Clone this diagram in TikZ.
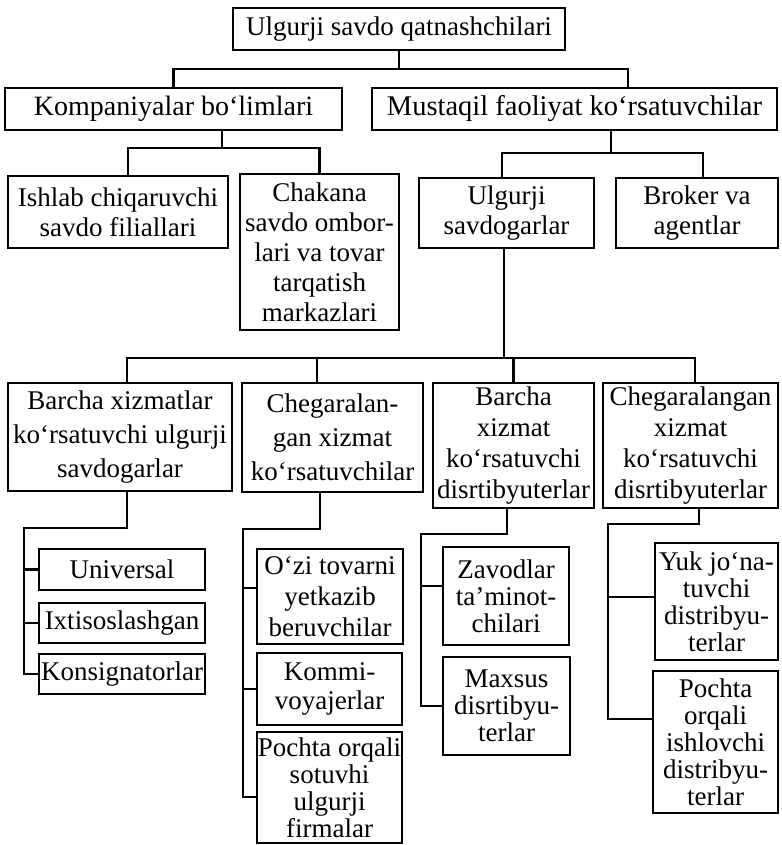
\documentclass[tikz,border=0pt]{standalone}
\usepackage{fontspec}
\setmainfont{Liberation Serif}
\begin{document}
\begin{tikzpicture}[x=1pt,y=-1pt,
  bx/.style={draw, line width=2.1pt, align=center, inner sep=0pt, font=\fontsize{27}{29}\selectfont},
  ls/.style={font=\fontsize{27}{#1}\selectfont},
  ln/.style={line width=2.1pt, line cap=rect}]
\useasboundingbox[fill=white] (0,0) rectangle (781,845);
% row 1-2
\node[bx, minimum width=332pt, minimum height=42pt] (top) at (399,29) {Ulgurji savdo qatnashchilari};
\node[bx, minimum width=337pt, minimum height=42pt, font=\fontsize{28}{30}\selectfont] (komp) at (173.5,109) {Kompaniyalar bo‘limlari};
\node[bx, minimum width=405pt, minimum height=42pt, font=\fontsize{28.5}{30}\selectfont] (must) at (574.5,109) {Mustaqil faoliyat ko‘rsatuvchilar};
% row 3
\node[bx, ls=30, minimum width=220pt, minimum height=72pt] (ishlab) at (118,212) {Ishlab chiqaruvchi\\savdo filiallari};
\node[bx, ls=30, minimum width=159pt, minimum height=156pt] (chakana) at (319.5,252) {Chakana\\savdo ombor-\\lari va tovar\\tarqatish\\markazlari};
\node[bx, ls=30, minimum width=175pt, minimum height=70pt] (ulgs) at (506.5,213) {Ulgurji\\savdogarlar};
\node[bx, ls=30, minimum width=162pt, minimum height=70pt] (broker) at (697,213) {Broker va\\agentlar};
% row 4
\node[bx, ls=34, minimum width=224pt, minimum height=108pt] (bx1) at (120,437) {Barcha xizmatlar\\ko‘rsatuvchi ulgurji\\savdogarlar};
\node[bx, ls=34, minimum width=181pt, minimum height=109pt] (cg1) at (332.5,437.5) {Chegaralan-\\gan xizmat\\ko‘rsatuvchilar};
\node[bx, ls=31, minimum width=161pt, minimum height=125pt] (bx2) at (513.5,445.5) {Barcha\\xizmat\\ko‘rsatuvchi\\disrtibyuterlar};
\node[bx, ls=31, minimum width=175pt, minimum height=125pt] (cg2) at (690.5,445.5) {Chegaralangan\\xizmat\\ko‘rsatuvchi\\disrtibyuterlar};
% row 5
\node[bx, minimum width=166pt, minimum height=41pt] (univ) at (122,569.5) {Universal};
\node[bx, minimum width=166pt, minimum height=40pt] (ixt) at (122,623) {Ixtisoslashgan};
\node[bx, minimum width=166pt, minimum height=40pt] (kons) at (122,674) {Konsignatorlar};
\node[bx, ls=31, minimum width=146pt, minimum height=95pt] (ozi) at (330,596.5) {O‘zi tovarni\\yetkazib\\beruvchilar};
\node[bx, minimum width=145pt, minimum height=72pt] (kommi) at (329.5,689) {Kommi-\\voyajerlar};
\node[bx, ls=27, minimum width=145pt, minimum height=111pt] (poch1) at (329.5,787.5) {Pochta orqali\\sotuvhi\\ulgurji\\firmalar};
\node[bx, ls=27, minimum width=126pt, minimum height=98pt] (zavod) at (506,596) {Zavodlar\\ta’minot-\\chilari};
\node[bx, ls=27, minimum width=127pt, minimum height=98pt] (maxsus) at (506.5,706) {Maxsus\\disrtibyu-\\terlar};
\node[bx, ls=27, minimum width=123pt, minimum height=117pt] (yuk) at (716.5,601.5) {Yuk jo‘na-\\tuvchi\\distribyu-\\terlar};
\node[bx, ls=27, minimum width=125pt, minimum height=142pt] (poch2) at (715.5,742) {Pochta\\orqali\\ishlovchi\\distribyu-\\terlar};
% connectors
\draw[ln] (top.south) -- ++(0,18) coordinate (t1);
\draw[ln] (komp.north) |- (t1);
\draw[ln] ([xshift=53.5pt]must.north) |- (t1);
\draw[ln] ([xshift=48.5pt]komp.south) -- ++(0,17) coordinate (k1);
\draw[ln] ([xshift=10pt]ishlab.north) |- (k1);
\draw[ln] (chakana.north) |- (k1);
\draw[ln] ([xshift=36.5pt]must.south) -- ++(0,22) coordinate (m1);
\draw[ln] ([xshift=-4.5pt]ulgs.north) |- (m1);
\draw[ln] ([xshift=6pt]broker.north) |- (m1);
\draw[ln] ([xshift=-2.5pt]ulgs.south) -- ++(0,109) coordinate (u1);
\draw[ln] ([xshift=7pt]bx1.north) |- (u1);
\draw[ln] ([xshift=-15.5pt]cg1.north) |- (u1);
\draw[ln] (bx2.north) |- (u1);
\draw[ln] ([xshift=4.5pt]cg2.north) |- (u1);
% branch 1
\draw[ln] ([xshift=7pt]bx1.south) -- ++(0,36) -| ([xshift=-14pt]kons.west) -- (kons.west);
\draw[ln] (univ.west) -- ++(-14,0);
\draw[ln] (ixt.west) -- ++(-14,0);
% branch 2
\draw[ln] ([xshift=-12.5pt]cg1.south) -- ++(0,36) -| ([xshift=-13pt,yshift=-9.5pt]poch1.west) -- ([yshift=-9.5pt]poch1.west);
\draw[ln] ([yshift=8.5pt]ozi.west) -- ++(-13,0);
\draw[ln] (kommi.west) -- ++(-13,0);
% branch 3
\draw[ln] ([xshift=-6.5pt]bx2.south) -- ++(0,25) -| ([xshift=-21pt]maxsus.west) -- (maxsus.west);
\draw[ln] ([yshift=10pt]zavod.west) -- ++(-21,0);
% branch 4
\draw[ln] ([xshift=8.5pt]cg2.south) -- ++(0,15) -| ([xshift=-44pt,yshift=23pt]poch2.west) -- ([yshift=23pt]poch2.west);
\draw[ln] ([yshift=4.5pt]yuk.west) -- ++(-46,0);
\end{tikzpicture}
\end{document}
